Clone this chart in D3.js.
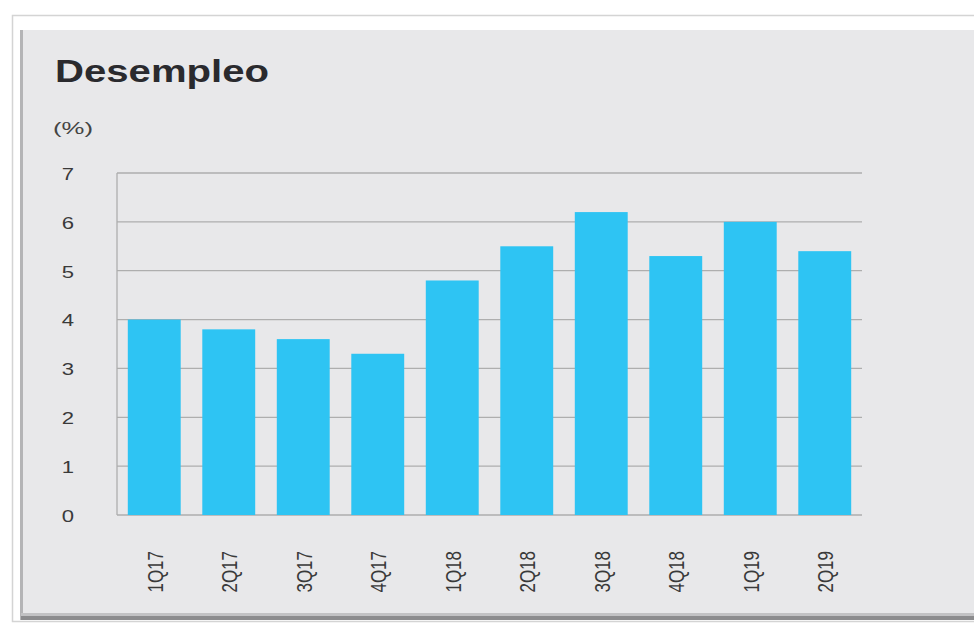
<!DOCTYPE html>
<html>
<head>
<meta charset="utf-8">
<script src="https://cdn.jsdelivr.net/npm/d3@7"></script>
<style>
  body { margin: 0; background: #fff; }
  svg { display: block; }
</style>
</head>
<body>
<div id="chart"></div>
<script>
// data
const quarters = ["1Q17", "2Q17", "3Q17", "4Q17", "1Q18", "2Q18", "3Q18", "4Q18", "1Q19", "2Q19"];
const desempleo = [4.0, 3.8, 3.6, 3.3, 4.8, 5.5, 6.2, 5.3, 6.0, 5.4];
const yTicks = [0, 1, 2, 3, 4, 5, 6, 7];

const W = 974, H = 625;
const margin = {top: 173, right: 112, bottom: 110, left: 117};
const font = "Liberation Sans, Arial, sans-serif";
const stretch = 1.3; // the picture is a bit wide, text looks stretched sideways

const svg = d3.select("#chart").append("svg")
  .attr("width", W).attr("height", H);

// frame / panel
svg.append("rect")
  .attr("x", 12.5).attr("y", 15.5).attr("width", 970).attr("height", 606)
  .attr("fill", "none").attr("stroke", "#d4d4d4").attr("stroke-width", 1.5);
svg.append("rect")
  .attr("x", 21).attr("y", 30).attr("width", W - 21).attr("height", 588)
  .attr("fill", "#e8e8ea");
svg.append("line")
  .attr("x1", 21.5).attr("x2", 21.5).attr("y1", 30).attr("y2", 620)
  .attr("stroke", "#b4b4b6").attr("stroke-width", 3);
svg.append("line")
  .attr("x1", 21).attr("x2", W).attr("y1", 618).attr("y2", 618)
  .attr("stroke", "#8c8c8e").attr("stroke-width", 4);
svg.append("line")
  .attr("x1", 21).attr("x2", W).attr("y1", 614.5).attr("y2", 614.5)
  .attr("stroke", "#c2c2c4").attr("stroke-width", 3);

const x = d3.scaleBand()
  .domain(quarters)
  .range([margin.left, W - margin.right])
  .paddingInner(0.29).paddingOuter(0.145);

const y = d3.scaleLinear()
  .domain([0, 7])
  .range([H - margin.bottom, margin.top]);

// grid lines
svg.append("g")
  .selectAll("line")
  .data(yTicks)
  .join("line")
  .attr("x1", margin.left).attr("x2", W - margin.right)
  .attr("y1", d => y(d)).attr("y2", d => y(d))
  .attr("stroke", "#aeaeae").attr("stroke-width", 1.3);

svg.append("line")
  .attr("x1", margin.left).attr("x2", margin.left)
  .attr("y1", y(7)).attr("y2", y(0))
  .attr("stroke", "#aeaeae").attr("stroke-width", 1.3);

// bars
svg.append("g")
  .selectAll("rect")
  .data(desempleo)
  .join("rect")
  .attr("x", (d, i) => x(quarters[i]))
  .attr("width", x.bandwidth())
  .attr("y", d => y(d))
  .attr("height", d => y(0) - y(d))
  .attr("fill", "#2ec4f3");

// y axis labels
svg.append("g")
  .selectAll("text")
  .data(yTicks)
  .join("text")
  .attr("transform", d => `translate(68,${y(d)}) scale(${stretch},1)`)
  .attr("dy", "0.4em")
  .attr("text-anchor", "middle")
  .attr("font-family", font).attr("font-size", 17).attr("fill", "#3a3a3a")
  .text(d3.format("d"));

// x axis labels, rotated
svg.append("g")
  .selectAll("text")
  .data(quarters)
  .join("text")
  .attr("transform", d => `translate(${x(d) + x.bandwidth() / 2 + 1},551) scale(${stretch},1) rotate(-90)`)
  .attr("dy", "0.35em")
  .attr("text-anchor", "end")
  .attr("font-family", font).attr("font-size", 17).attr("fill", "#3a3a3a")
  .text(d => d);

// titles
svg.append("text")
  .attr("x", 55).attr("y", 82)
  .attr("font-family", font)
  .attr("font-weight", "bold").attr("font-size", 32)
  .attr("fill", "#2a2a2e")
  .attr("textLength", 214).attr("lengthAdjust", "spacingAndGlyphs")
  .text("Desempleo");

svg.append("text")
  .attr("x", 53).attr("y", 134)
  .attr("font-family", font)
  .attr("font-size", 16).attr("fill", "#444")
  .attr("textLength", 40).attr("lengthAdjust", "spacingAndGlyphs")
  .text("(%)");
</script>
</body>
</html>
